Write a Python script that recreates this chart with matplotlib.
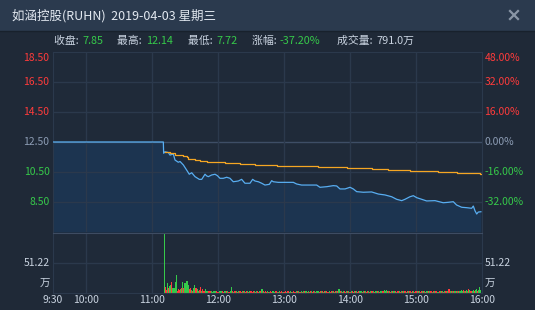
import numpy as np
import matplotlib.pyplot as plt
from matplotlib.patches import Rectangle
from matplotlib.lines import Line2D

plt.rcParams['font.family'] = ['Noto Sans CJK SC', 'DejaVu Sans']

# ---- data (minutes after 9:30) ----
base = 12.5
hour_labels = ['9:30', '10:00', '11:00', '12:00', '13:00', '14:00', '15:00', '16:00']
hour_min = [0, 30, 90, 150, 210, 270, 330, 390]
price_ticks = [8.5, 10.5, 12.5, 14.5, 16.5, 18.5]

price_min = [0, 100.3, 100.6, 101.8, 104.8, 106.4, 109.4, 110.9, 113.9, 115.5,
             118.5, 121.5, 123.9, 126.1, 129.1, 133, 135.2, 138.2, 139.7, 141.2,
             144.2, 147.3, 149.4, 151.8, 154.8, 157.9, 160.9, 163.9, 168.5, 171.5,
             174.5, 179.1, 181.5, 183.6, 186.7, 189.7, 192.7, 196.7, 198.8, 200.3,
             204.8, 209.4, 218.5, 221.5, 226, 230.6, 239.7, 242.7, 248.8, 254.8,
             257.9, 260.9, 265.5, 270, 273, 276.1, 282.1, 289.7, 295.8, 301.8,
             307.9, 312.4, 317, 320, 324.5, 327.6, 330.6, 335.2, 339.7, 347.3,
             354.8, 359.4, 363.9, 366.9, 371.5, 376.1, 380.6, 382.1, 383.6, 385.2,
             386.6, 389]
price_val = [12.5, 12.5, 11.75, 11.85, 11.80, 11.63, 11.70, 11.30, 11.15, 11.20,
             10.97, 10.63, 10.35, 10.45, 10.19, 10.01, 10.01, 10.35, 10.24, 10.19,
             10.30, 10.35, 10.26, 10.08, 10.08, 10.15, 10.08, 9.85, 9.90, 10.01,
             9.75, 9.75, 10.01, 9.90, 9.85, 9.75, 9.63, 9.68, 9.92, 9.85,
             9.81, 9.81, 9.81, 9.70, 9.63, 9.63, 9.63, 9.48, 9.52, 9.59,
             9.57, 9.37, 9.37, 9.48, 9.37, 9.19, 9.15, 9.17, 9.03, 8.97,
             8.85, 8.68, 8.59, 8.68, 8.85, 8.92, 8.79, 8.68, 8.57, 8.59,
             8.45, 8.48, 8.52, 8.30, 8.15, 8.12, 8.08, 8.23, 7.92, 7.70,
             7.83, 7.85]

avg_min = [101.8, 106.4, 110.9, 117.9, 118.5, 121.5, 123, 129.1, 133.6, 139.7,
           156.4, 170, 183.6, 203.3, 241.2, 267, 289.7, 304.8, 324.5, 350.3,
           366.9, 377.5, 388, 389]
avg_val = [11.81, 11.75, 11.63, 11.63, 11.56, 11.49, 11.39, 11.30, 11.24, 11.15,
           11.10, 11.03, 10.97, 10.90, 10.81, 10.75, 10.70, 10.65, 10.59, 10.52,
           10.46, 10.41, 10.35, 10.35]

vol_start = 101
vol = [101, 11, 5, 17, 8.5, 12, 13, 19, 8.5, 9,
       19, 31, 3, 7, 5, 7, 9, 19, 9, 17,
       20, 21, 14, 7, 9, 5, 4, 9, 13, 9,
       7, 4, 5, 10, 4, 7, 4, 4, 7, 4,
       3, 3, 3, 3, 2, 3, 3, 3, 3, 2,
       3, 3, 4, 3, 2, 3, 4, 3, 3, 2,
       3, 11, 3, 2, 3, 4, 3, 2, 3, 3,
       2, 4, 3, 3, 2, 3, 3, 2, 4, 3,
       2, 3, 3, 2, 4, 3, 2, 3, 4, 6,
       3, 2, 3, 2, 3, 2, 2, 3, 2, 3,
       2, 3, 4, 2, 2, 3, 2, 3, 2, 2,
       3, 2, 3, 4, 2, 3, 2, 2, 3, 2,
       3, 4, 3, 2, 2, 3, 2, 3, 4, 3,
       2, 3, 2, 3, 3, 2, 4, 3, 2, 3,
       3, 2, 3, 4, 3, 2, 3, 3, 4, 2,
       3, 2, 3, 3, 4, 2, 3, 3, 4, 6,
       3, 4, 2, 3, 3, 2, 3, 4, 3, 2,
       3, 3, 2, 3, 4, 3, 2, 3, 3, 4,
       2, 3, 4, 3, 2, 3, 3, 2, 4, 3,
       3, 2, 3, 4, 3, 3, 2, 3, 4, 4,
       5, 4, 5, 3, 4, 3, 2, 3, 4, 3,
       3, 2, 4, 3, 3, 2, 3, 4, 3, 3,
       2, 3, 3, 4, 3, 2, 3, 3, 2, 4,
       3, 3, 4, 2, 3, 3, 4, 3, 2, 3,
       3, 4, 3, 3, 2, 3, 4, 3, 3, 2,
       3, 3, 4, 3, 2, 3, 4, 3, 4, 6,
       3, 4, 3, 3, 4, 3, 4, 4, 3, 4,
       5, 4, 5, 4, 3, 5, 4, 6, 5, 4,
       4, 5, 4, 5, 6, 4, 5, 10, 5]
vol_dir = ("grrgrggrgg" "ggrrrgrgrg" "gggrrgrggr" "ggrrgrrrgg" "rrrgggggrr"
           "gggrrggrgr" "ggrgrrgrgr" "rgrgrrgrgr" "rrgrgrrgrg" "rgrrgrgrrg"
           "grrgrgrrgr" "rgrrggrgrr" "grgrrgrgrg" "rgrrgrrgrg" "grrgrgrgrr"
           "grrgrgrgrg" "rgrgrrgrgr" "grrgrgrrgg" "rgrgrrgrgr" "grggrgrggr"
           "gggrgrrgrg" "rgrrgrgrgr" "grgrrgrgrr" "grgrrgrgrg" "rgrrgrgrrg"
           "rgrgrgrrgr" "grgrggrgrg" "ggrgrggrgr" "ggrggrggg")
vol_unit = 51.22

# ---- colours ----
bg = '#1f2937'
grid = '#2b394c'
red = '#ff3b3b'
green = '#36c94a'
gray = '#8c9cb4'
light = '#c9d3e0'

W, H = 535, 310
fig = plt.figure(figsize=(W / 100, H / 100), dpi=100)
fig.patch.set_facecolor(bg)

def fx(x):
    return x / W

def fy(y):
    return 1 - y / H

# title bar
fig.add_artist(Rectangle((0, fy(31)), 1, 31 / H, transform=fig.transFigure,
                         facecolor='#2b3a4e', edgecolor='none'))
fig.add_artist(Line2D([0, 1], [fy(31), fy(31)], transform=fig.transFigure,
                      color='#18212c', lw=1))
fig.text(fx(12), fy(16), '如涵控股(RUHN)  2019-04-03 星期三', color='#e2e8f0',
         fontsize=9, va='center', ha='left')
fig.add_artist(Line2D([fx(510), fx(518)], [fy(11), fy(19)], transform=fig.transFigure,
                      color='#8a96a6', lw=1.6))
fig.add_artist(Line2D([fx(510), fx(518)], [fy(19), fy(11)], transform=fig.transFigure,
                      color='#8a96a6', lw=1.6))

# info row
info = [(54, '收盘: ', 82, '7.85', green),
        (117, '最高: ', 146, '12.14', green),
        (188, '最低: ', 216, '7.72', green),
        (252, '涨幅: ', 280, '-37.20%', green),
        (337, '成交量: ', 376, '791.0万', light)]
for lx, lab, vx, val, c in info:
    fig.text(fx(lx), fy(41), lab, color=light, fontsize=7.8, va='center')
    fig.text(fx(vx), fy(41), val, color=c, fontsize=7.8, va='center')

# ---- price panel ----
ax = fig.add_axes([fx(53), fy(232), 429 / W, 180 / H])
ax.set_facecolor('#1f2a39')
ax.set_xlim(0, 390)
ax.set_ylim(6.5, 18.5)
for y in price_ticks[:-1]:
    ax.axhline(y, color='#3e4e66' if y == base else grid, lw=1, zorder=1)
for m in hour_min[1:-1]:
    ax.axvline(m, color=grid, lw=1, zorder=1)
ax.fill_between(price_min, price_val, 6.5, color='#1c3450', lw=0, zorder=0.5)
ax.plot(price_min, price_val, color='#58aef2', lw=0.9, zorder=3)
ax.plot(avg_min, avg_val, color='#f5a623', lw=0.9, drawstyle='steps-post', zorder=3)
ax.set_xticks([])
ax.set_yticks([])
for s in ax.spines.values():
    s.set_color(grid)
ax.spines['bottom'].set_visible(False)

for p in price_ticks:
    pct = (p / base - 1) * 100
    c = gray if p == base else (red if p > base else green)
    yy = p - 0.42 if p == price_ticks[-1] else p
    ax.text(-0.008, yy, '%.2f' % p, transform=ax.get_yaxis_transform(),
            ha='right', va='center', color=c, fontsize=7.5)
    ax.text(1.006, yy, '%.2f%%' % pct, transform=ax.get_yaxis_transform(),
            ha='left', va='center', color=c, fontsize=7.5)

# ---- volume panel ----
vax = fig.add_axes([fx(53), fy(293), 429 / W, 60 / H])
vax.set_facecolor('#1f2a39')
vax.set_xlim(0, 390)
vax.set_ylim(0, 2 * vol_unit)
vax.axhline(vol_unit, color=grid, lw=1, zorder=1)
for m in hour_min[1:-1]:
    vax.axvline(m, color=grid, lw=1, zorder=1)
vol_x = vol_start + np.arange(len(vol))
vol_c = [red if d == 'r' else green for d in vol_dir]
vax.bar(vol_x, vol, width=0.95, color=vol_c, lw=0, zorder=2)
vax.set_xticks([])
vax.set_yticks([])
for s in vax.spines.values():
    s.set_color(grid)
vax.spines['top'].set_color('#3e4c62')

for xs, ha in [(-0.008, 'right'), (1.006, 'left')]:
    vax.text(xs, vol_unit, '%.2f' % vol_unit, transform=vax.get_yaxis_transform(),
             ha=ha, va='center', color=light, fontsize=7.5)
    vax.text(xs, 0.15, '万', transform=vax.transAxes,
             ha=ha, va='center', color=light, fontsize=7.5)

for m, lab in zip(hour_min, hour_labels):
    vax.text(m, -0.12, lab, transform=vax.get_xaxis_transform(),
             ha='center', va='center', color=light, fontsize=7.5)

fig.savefig('out.png', dpi=100, facecolor=bg)
